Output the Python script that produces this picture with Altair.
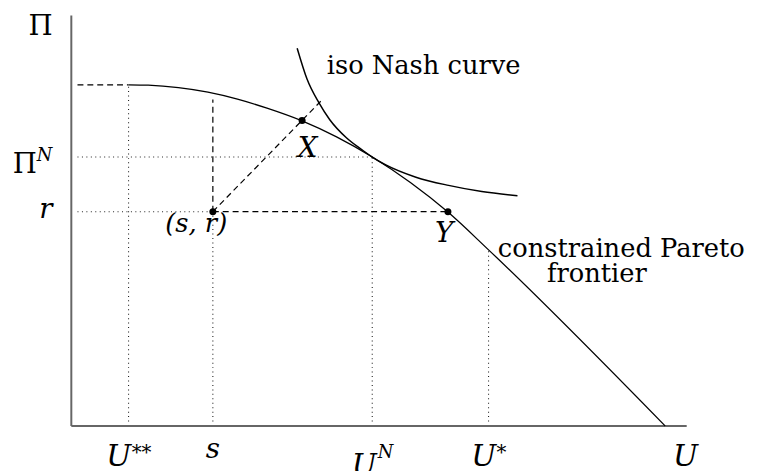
import altair as alt
import pandas as pd

# ---- data (in chart units: U and Pi both 0..100) ----
frontier_u = [9.3, 12.5, 17.4, 22.2, 27.0, 31.8, 37.5, 43.1, 48.9, 55.1, 61.2, 67.8, 96.5]
frontier_pi = [83.1, 83.0, 82.4, 81.3, 79.6, 77.4, 74.3, 70.4, 65.5, 59.3, 52.1, 42.9, 0.0]

nash_u = [36.7, 38.3, 40.2, 42.0, 44.7, 47.4, 48.9, 51.1, 56.0, 61.3, 66.7, 72.5]
nash_pi = [92.0, 84.5, 78.8, 74.6, 70.2, 67.1, 65.5, 63.6, 60.6, 58.6, 57.1, 56.1]

U_SS, S_VAL, U_N, U_STAR = 9.3, 23.0, 48.9, 67.8
PI_TOP, PI_N, R_VAL, PI_USTAR = 83.1, 65.5, 52.2, 42.9
X_PT = (37.5, 74.4)
Y_PT = (61.2, 52.2)
DIAG_END = (40.8, 79.5)
AXIS_START = 1.0

point_names = ["X", "(s,r)", "Y"]
point_u = [X_PT[0], S_VAL, Y_PT[0]]
point_pi = [X_PT[1], R_VAL, Y_PT[1]]

W, H = 622, 415
xs = alt.Scale(domain=[0, 100], nice=False, zero=False)
ys = alt.Scale(domain=[0, 100], nice=False, zero=False)


def seg_df(rows):
    return pd.DataFrame(rows, columns=["u", "pi", "u2", "pi2"])


axes_df = seg_df([[0, 0, 0, 100], [0, 0, 100, 0]])
dashed_df = seg_df([
    [AXIS_START, PI_TOP, U_SS, PI_TOP],
    [S_VAL, R_VAL, S_VAL, DIAG_END[1]],
    [S_VAL, R_VAL, DIAG_END[0], DIAG_END[1]],
    [S_VAL, R_VAL, Y_PT[0], R_VAL],
])
dotted_df = seg_df([
    [AXIS_START, PI_N, U_N, PI_N],
    [AXIS_START, R_VAL, S_VAL, R_VAL],
    [U_SS, 0, U_SS, PI_TOP],
    [S_VAL, 0, S_VAL, R_VAL],
    [U_N, 0, U_N, PI_N],
    [U_STAR, 0, U_STAR, PI_USTAR],
])


def seg_layer(df, color, width, dash=None):
    kw = dict(color=color, strokeWidth=width)
    if dash:
        kw["strokeDash"] = dash
    return alt.Chart(df).mark_rule(**kw).encode(
        x=alt.X("u:Q", scale=xs, axis=None),
        y=alt.Y("pi:Q", scale=ys, axis=None),
        x2="u2:Q",
        y2="pi2:Q",
    )


frontier = alt.Chart(pd.DataFrame({"u": frontier_u, "pi": frontier_pi})).mark_line(
    color="black", strokeWidth=1.3, interpolate="monotone"
).encode(x=alt.X("u:Q", scale=xs, axis=None), y=alt.Y("pi:Q", scale=ys, axis=None))

nash = alt.Chart(pd.DataFrame({"u": nash_u, "pi": nash_pi})).mark_line(
    color="black", strokeWidth=1.5, interpolate="monotone"
).encode(x=alt.X("u:Q", scale=xs, axis=None), y=alt.Y("pi:Q", scale=ys, axis=None))

points = alt.Chart(pd.DataFrame({"name": point_names, "u": point_u, "pi": point_pi})).mark_circle(
    color="black", size=50, opacity=1
).encode(x=alt.X("u:Q", scale=xs, axis=None), y=alt.Y("pi:Q", scale=ys, axis=None))


def text_layer(rows, size, align="left", italic=False, font="DejaVu Serif"):
    df = pd.DataFrame(rows, columns=["t", "u", "pi"])
    kw = dict(font=font, fontSize=size, align=align, baseline="alphabetic", color="black")
    if italic:
        kw["fontStyle"] = "italic"
    return alt.Chart(df).mark_text(**kw).encode(
        x=alt.X("u:Q", scale=xs, axis=None),
        y=alt.Y("pi:Q", scale=ys, axis=None),
        text="t:N",
    )


texts = [
    text_layer([["iso Nash curve", 41.5, 85.8], ["constrained Pareto", 69.3, 41.2]], 26, "left"),
    text_layer([["frontier", 85.4, 35.0]], 26, "center"),
    text_layer([["Π", -3.05, 95.2]], 28, "right"),
    text_layer([["Π", -5.6, 61.7]], 28, "right"),
    text_layer([["N", -5.6, 64.6]], 18, "left", italic=True),
    text_layer([["r", -3.05, 50.6]], 28, "right", italic=True),
    text_layer([["X", 38.4, 65.5], ["Y", 60.6, 44.8]], 28, "center", italic=True),
    text_layer([["(s, r)", 20.3, 47.2]], 26, "center", italic=True),
    # bottom labels
    text_layer([["U", 7.7, -9.8], ["U", 47.6, -12.0], ["U", 67.0, -9.8], ["U", 99.8, -9.8]], 30, "center", italic=True),
    text_layer([["s", 23.0, -7.7]], 28, "center", italic=True),
    text_layer([["**", 9.8, -8.0], ["*", 69.1, -8.0]], 20, "left"),
    text_layer([["N", 49.8, -7.7]], 18, "left", italic=True),
]

chart = alt.layer(
    seg_layer(dotted_df, "#222", 1.1, [1, 3.5]),
    seg_layer(dashed_df, "black", 1.2, [6, 4]),
    seg_layer(axes_df, "#666", 2),
    frontier,
    nash,
    points,
    *texts,
).properties(
    width=W,
    height=H,
    autosize=alt.AutoSizeParams(type="none"),
    padding={"left": 64, "top": 5, "right": 66, "bottom": 43},
).configure_view(stroke=None)

chart.save("out.html", embed_options={"renderer": "svg", "actions": False})
